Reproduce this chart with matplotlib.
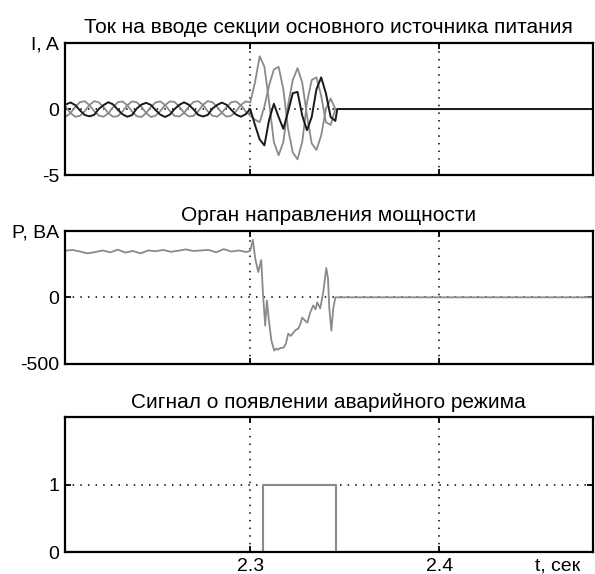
import numpy as np
import matplotlib
matplotlib.use('Agg')
from matplotlib import pyplot as plt

plt.rcParams['font.family'] = ['Liberation Sans', 'DejaVu Sans']

# ---- ток на вводе (три фазы), шаг 0.0025 с от 2.2 до 2.345 ----
t_cur = np.round(2.2 + 0.0025 * np.arange(59), 4)
t_tail = [2.3460, 2.4810]

i_black = [0.05, 0.35, 0.50, 0.30, -0.10, -0.45, -0.55, -0.44,
           0.02, 0.30, 0.52, 0.35, -0.05, -0.40, -0.58, -0.46,
           0.04, 0.34, 0.47, 0.31, -0.08, -0.43, -0.60, -0.42,
           0.00, 0.32, 0.51, 0.33, -0.02, -0.44, -0.56, -0.45,
           0.03, 0.31, 0.49, 0.32, -0.06, -0.42, -0.58, -0.40,
           0.00, -1.20, -2.30, -2.75, -0.80, 0.40, -0.60, -1.50,
           -0.20, 1.20, 1.30, -0.50, -1.60, -0.60, 1.50, 2.40,
           1.20, -0.60, -0.90, 0.0, 0.0]
i_gray1 = [-0.52, -0.58, -0.30, 0.16, 0.52, 0.60, 0.30, -0.16,
           -0.50, -0.58, -0.32, 0.14, 0.52, 0.58, 0.28, -0.18,
           -0.54, -0.60, -0.30, 0.16, 0.50, 0.58, 0.30, -0.14,
           -0.52, -0.56, -0.30, 0.18, 0.54, 0.60, 0.32, -0.16,
           -0.50, -0.58, -0.28, 0.16, 0.52, 0.58, 0.30, -0.16,
           -0.50, -0.80, -1.00, 0.20, 1.80, 3.00, 3.20, 1.50,
           -1.50, -3.30, -3.80, -2.50, 0.50, 2.20, 2.40, 1.00,
           -1.00, -1.20, 0.00, 0.0, 0.0]
i_gray2 = [0.52, 0.16, -0.30, -0.58, -0.52, -0.16, 0.30, 0.60,
           0.50, 0.14, -0.32, -0.58, -0.54, -0.18, 0.28, 0.58,
           0.52, 0.16, -0.30, -0.60, -0.50, -0.14, 0.30, 0.58,
           0.54, 0.18, -0.28, -0.56, -0.52, -0.16, 0.32, 0.60,
           0.52, 0.16, -0.30, -0.58, -0.50, -0.16, 0.30, 0.58,
           0.50, 2.00, 4.00, 3.20, 0.50, -2.50, -3.50, -2.50,
           0.30, 2.20, 3.10, 2.00, -0.50, -2.60, -3.10, -2.00,
           0.00, 0.80, 0.00, 0.0, 0.0]

# ---- орган направления мощности ----
t_pow = [2.202, 2.206, 2.210, 2.214, 2.218, 2.222, 2.226, 2.230, 2.234,
         2.238, 2.242, 2.246, 2.250, 2.254, 2.258, 2.262, 2.266, 2.270,
         2.274, 2.278, 2.282, 2.286, 2.290, 2.294, 2.298,
         2.3000, 2.3014, 2.3026, 2.3042, 2.3058, 2.3067, 2.3079, 2.3088,
         2.3100, 2.3112, 2.3127, 2.3138, 2.3148, 2.3160, 2.3175, 2.3188,
         2.3201, 2.3215, 2.3228, 2.3240, 2.3254, 2.3265, 2.3275, 2.3290,
         2.3302, 2.3317, 2.3333, 2.3345, 2.3354, 2.3370, 2.3386, 2.3402,
         2.3411, 2.3418, 2.3429, 2.3439, 2.3450, 2.4810]
p_val = [350, 356, 344, 330, 340, 352, 338, 358, 336,
         348, 330, 352, 346, 356, 342, 350, 360, 348,
         352, 356, 338, 362, 344, 352, 340,
         350, 432, 295, 190, 280, 38, -212, -23,
         -190, -326, -400, -385, -392, -380, -379, -350,
         -273, -290, -265, -245, -235, -200, -152, -175,
         -190, -114, -61, -90, -38, -83, 38, 220,
         144, -83, -250, -83, 0, 0]

# ---- сигнал о появлении аварийного режима ----
t_sig = [2.202, 2.3068, 2.3068, 2.3455, 2.3455, 2.481]
s_val = [0, 0, 1, 1, 0, 0]

gray = '#8a8a8a'
black = '#1a1a1a'

fig = plt.figure(figsize=(5.95, 5.74), dpi=100)
pos = [(0.109, 0.695, 0.887, 0.230),
       (0.109, 0.366, 0.887, 0.232),
       (0.109, 0.038, 0.887, 0.235)]
titles = ['Ток на вводе секции основного источника питания',
          'Орган направления мощности',
          'Сигнал о появлении аварийного режима']

axes = [fig.add_axes(p) for p in pos]

ax1, ax2, ax3 = axes
ax1.plot(t_cur.tolist() + t_tail, i_gray1, color=gray, lw=1.3)
ax1.plot(t_cur.tolist() + t_tail, i_gray2, color=gray, lw=1.3)
ax1.plot(t_cur.tolist() + t_tail, i_black, color=black, lw=1.4)
ax1.set_ylim(-5, 5)
ax1.set_yticks([-5, 0, 5])
ax1.set_yticklabels(['-5', '0', 'I, A'])

ax2.plot(t_pow, p_val, color=gray, lw=1.3)
ax2.set_ylim(-500, 500)
ax2.set_yticks([-500, 0, 500])
ax2.set_yticklabels(['-500', '0', 'P, BA'])

ax3.plot(t_sig, s_val, color=gray, lw=1.5)
ax3.set_ylim(0, 2)
ax3.set_yticks([0, 1])
ax3.set_yticklabels(['0', '1'])

for ax, title in zip(axes, titles):
    ax.set_xlim(2.202, 2.481)
    ax.set_xticks([2.3, 2.4])
    ax.grid(True, color='black', linestyle=(0, (1, 4)), linewidth=1.1)
    ax.tick_params(direction='in', length=4, width=1.3, top=True, right=True,
                   labelsize=14, pad=4)
    for s in ax.spines.values():
        s.set_linewidth(1.6)
    ax.set_title(title, fontsize=15, pad=7)

ax1.set_xticklabels([])
ax2.set_xticklabels([])
ax3.set_xticks([2.3, 2.4, 2.4625])
ax3.set_xticklabels(['2.3', '2.4', 't, сек'])
ax3.xaxis.get_major_ticks()[2].tick1line.set_visible(False)
ax3.xaxis.get_major_ticks()[2].tick2line.set_visible(False)
ax3.xaxis.get_major_ticks()[2].gridline.set_visible(False)

plt.savefig('out.png', dpi=100)
